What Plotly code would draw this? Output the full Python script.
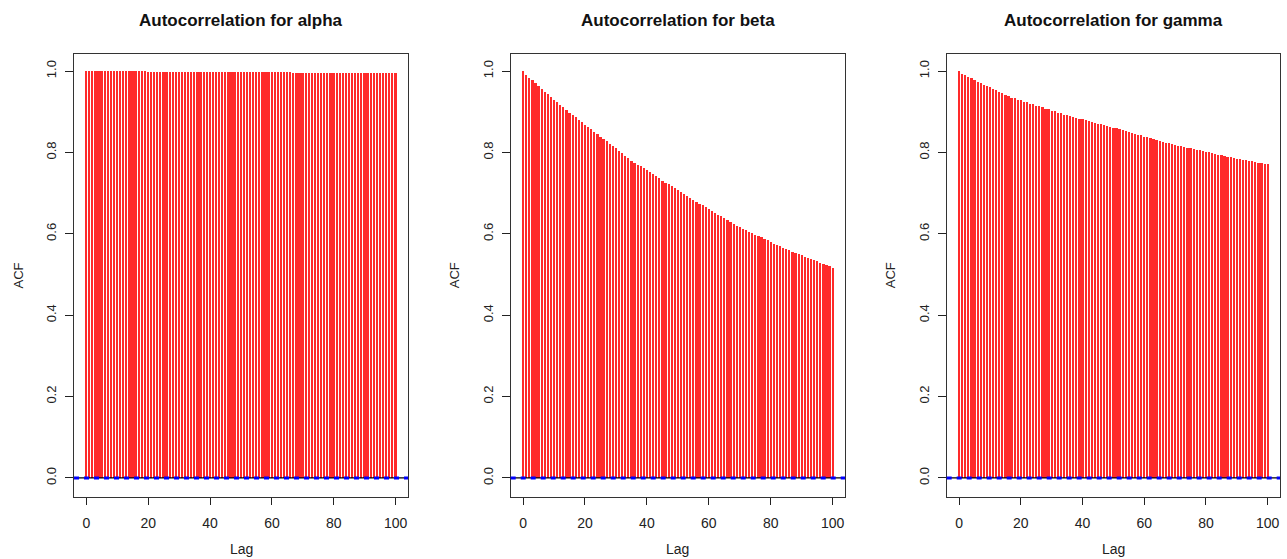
import plotly.graph_objects as go

lags = list(range(0, 101))

acf_alpha = [1.000] * 20 + [0.998] * 47 + [0.995] * 34

acf_beta = [
    1.000, 0.991, 0.984, 0.977, 0.970, 0.963, 0.956, 0.949, 0.943, 0.936,
    0.930, 0.924, 0.917, 0.911, 0.904, 0.898, 0.892, 0.886, 0.880, 0.874,
    0.868, 0.863, 0.857, 0.851, 0.845, 0.839, 0.833, 0.827, 0.821, 0.815,
    0.810, 0.804, 0.798, 0.792, 0.786, 0.780, 0.775, 0.770, 0.766, 0.761,
    0.756, 0.751, 0.746, 0.741, 0.736, 0.731, 0.726, 0.722, 0.717, 0.712,
    0.707, 0.702, 0.697, 0.692, 0.688, 0.683, 0.679, 0.674, 0.670, 0.665,
    0.661, 0.656, 0.652, 0.647, 0.643, 0.638, 0.634, 0.629, 0.625, 0.620,
    0.616, 0.613, 0.609, 0.605, 0.602, 0.598, 0.595, 0.591, 0.587, 0.584,
    0.580, 0.576, 0.573, 0.569, 0.566, 0.562, 0.559, 0.556, 0.553, 0.550,
    0.547, 0.544, 0.541, 0.538, 0.535, 0.532, 0.529, 0.526, 0.523, 0.520,
    0.517,
]

acf_gamma = [
    1.000, 0.994, 0.990, 0.986, 0.982, 0.978, 0.974, 0.971, 0.967, 0.963,
    0.960, 0.956, 0.953, 0.949, 0.946, 0.942, 0.939, 0.935, 0.933, 0.930,
    0.928, 0.925, 0.923, 0.920, 0.918, 0.915, 0.913, 0.911, 0.908, 0.906,
    0.903, 0.901, 0.898, 0.896, 0.893, 0.891, 0.889, 0.887, 0.885, 0.883,
    0.881, 0.879, 0.877, 0.875, 0.873, 0.871, 0.869, 0.867, 0.865, 0.863,
    0.861, 0.859, 0.857, 0.855, 0.853, 0.850, 0.848, 0.846, 0.844, 0.842,
    0.839, 0.837, 0.835, 0.833, 0.831, 0.829, 0.826, 0.824, 0.822, 0.820,
    0.818, 0.817, 0.815, 0.813, 0.812, 0.810, 0.808, 0.806, 0.805, 0.803,
    0.801, 0.800, 0.798, 0.796, 0.794, 0.793, 0.791, 0.790, 0.788, 0.787,
    0.785, 0.784, 0.782, 0.781, 0.779, 0.778, 0.777, 0.775, 0.774, 0.772,
    0.771,
]

titles = ["Autocorrelation for alpha", "Autocorrelation for beta", "Autocorrelation for gamma"]
series = [acf_alpha, acf_beta, acf_gamma]
conf_bound = 0.0  # 1.96/sqrt(n) is effectively zero at this scale
x_ticks = [0, 20, 40, 60, 80, 100]
y_ticks = [0.0, 0.2, 0.4, 0.6, 0.8, 1.0]
y_tick_labels = ["0.0", "0.2", "0.4", "0.6", "0.8", "1.0"]

W, H = 1287, 559
x_domains = [(74, 408), (510.7, 845), (946.7, 1280)]
y_dom = [(559 - 497) / 559, (559 - 54) / 559]

FONT = "Liberation Sans, Arial, sans-serif"
fig = go.Figure()
layout = dict(
    width=W, height=H,
    margin=dict(l=0, r=0, t=0, b=0),
    paper_bgcolor="white", plot_bgcolor="white",
    showlegend=False, bargap=0,
    font=dict(family=FONT, size=14, color="#222222"),
)
annotations = []
shapes = []
for i, (title, vals) in enumerate(zip(titles, series)):
    n = "" if i == 0 else str(i + 1)
    xa, ya = "x" + n, "y" + n
    fig.add_trace(go.Bar(
        x=lags, y=vals, width=0.56,
        marker=dict(color="#FF2A2A", line=dict(width=0)),
        xaxis=xa, yaxis=ya, hoverinfo="x+y",
    ))
    x0, x1 = x_domains[i]
    layout["xaxis" + n] = dict(
        domain=[x0 / W, x1 / W], range=[-4, 104], anchor=ya,
        tickvals=x_ticks, ticks="outside", ticklen=7, tickcolor="#222",
        ticklabelstandoff=6,
        showgrid=False, zeroline=False, showline=True, linecolor="#333", linewidth=1,
        mirror=True, tickfont=dict(size=14, color="#222"),
    )
    layout["yaxis" + n] = dict(
        domain=y_dom, range=[-0.047, 1.042], anchor=xa,
        tickvals=y_ticks, ticktext=y_tick_labels, tickangle=-90,
        ticks="outside", ticklen=8, tickcolor="#222", ticklabelstandoff=4,
        showgrid=False, zeroline=False, showline=True, linecolor="#333", linewidth=1,
        mirror=True, tickfont=dict(size=13, color="#222"),
    )
    # zero line
    shapes.append(dict(type="line", xref=xa + " domain", yref=ya, x0=0, x1=1, y0=0, y1=0,
                       line=dict(color="black", width=1.2)))
    shapes.append(dict(type="line", xref=xa + " domain", yref=ya, x0=0, x1=1,
                       y0=conf_bound, y1=conf_bound,
                       line=dict(color="#0000FF", width=3, dash="5px,5px")))
    cx = (x0 + x1) / 2 / W
    annotations.append(dict(text="<b>" + title + "</b>", x=cx, y=(559 - 20) / 559,
                            xref="paper", yref="paper", showarrow=False,
                            font=dict(size=17, color="#111"), xanchor="center", yanchor="middle"))
    annotations.append(dict(text="Lag", x=cx, y=(559 - 549) / 559, xref="paper", yref="paper",
                            showarrow=False, font=dict(size=14, color="#222"),
                            xanchor="center", yanchor="middle"))
    annotations.append(dict(text="ACF", x=(x0 - 56) / W, y=(y_dom[0] + y_dom[1]) / 2,
                            xref="paper", yref="paper", showarrow=False, textangle=-90,
                            font=dict(size=13, color="#222"), xanchor="center", yanchor="middle"))

layout["annotations"] = annotations
layout["shapes"] = shapes
fig.update_layout(**layout)
fig.write_html("out.html", config={"displayModeBar": False},
               post_script="document.body.style.margin='0';document.body.style.overflow='hidden';")
